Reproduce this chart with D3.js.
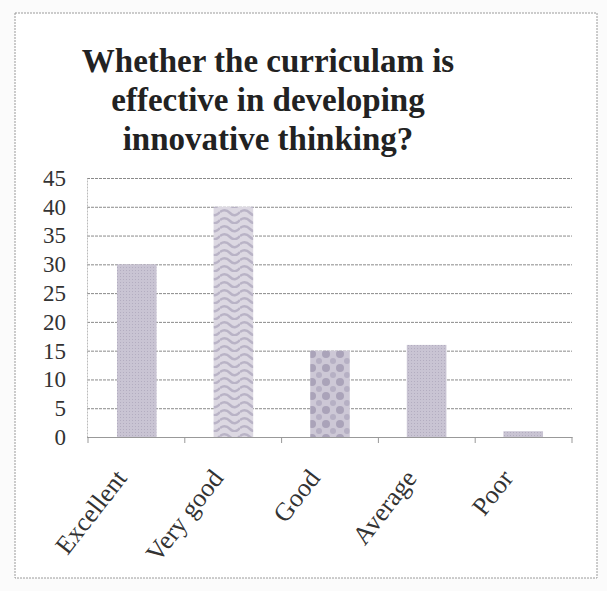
<!DOCTYPE html>
<html>
<head>
<meta charset="utf-8">
<script src="https://cdn.jsdelivr.net/npm/d3@7"></script>
<style>
body{margin:0;background:#fbfbfb;}
svg{display:block;}
</style>
</head>
<body>
<svg width="607" height="591"></svg>
<script>
"use strict";

var categories=["Excellent","Very good","Good","Average","Poor"];
var values=[30,40,15,16,1];
var yTicks=[0,5,10,15,20,25,30,35,40,45];
var titleLines=["Whether the curriculam is","effective in developing","innovative thinking?"];

var svg=d3.select("svg");

// texture patterns like the scanned print
var defs=svg.append("defs");
var pSolid=defs.append("pattern").attr("id","pSolid").attr("width",3).attr("height",3).attr("patternUnits","userSpaceOnUse");
pSolid.append("rect").attr("width",3).attr("height",3).attr("fill","#c9c4d3");
pSolid.append("rect").attr("width",1).attr("height",1).attr("fill","#b3adc0");

var pWave=defs.append("pattern").attr("id","pWave").attr("width",20).attr("height",16).attr("patternUnits","userSpaceOnUse");
pWave.append("rect").attr("width",20).attr("height",16).attr("fill","#dcd8e2");
pWave.append("path").attr("d","M0,4 Q5,0 10,5 T20,4 M0,12 Q5,8 10,13 T20,12")
	.attr("fill","none").attr("stroke","#b9b3c6").attr("stroke-width",2.5);

var pDots=defs.append("pattern").attr("id","pDots").attr("width",14).attr("height",14).attr("patternUnits","userSpaceOnUse");
pDots.append("rect").attr("width",14).attr("height",14).attr("fill","#cdc8d6");
pDots.append("circle").attr("cx",4).attr("cy",4).attr("r",4).attr("fill","#aaa3b9");
pDots.append("circle").attr("cx",11).attr("cy",11).attr("r",3).attr("fill","#b6b0c4");

var fills=["url(#pSolid)","url(#pWave)","url(#pDots)","url(#pSolid)","url(#pSolid)"];

// outer frame
svg.append("rect").attr("x",15).attr("y",13).attr("width",582).attr("height",565)
	.attr("fill","#ffffff").attr("stroke","#9a9a9a").attr("stroke-width",1).attr("stroke-dasharray","2,1");

// title
svg.append("g").selectAll("text").data(titleLines).enter().append("text")
	.attr("x",268).attr("y",function(d,i){return 72+i*39;})
	.attr("text-anchor","middle")
	.attr("font-family","Liberation Serif, DejaVu Serif, serif")
	.attr("font-size",33).attr("font-weight","bold").attr("fill","#222")
	.text(function(d){return d;});

var xScale=d3.scaleBand().domain(categories).range([88,572]).paddingInner(0.59).paddingOuter(0.3);
var yScale=d3.scaleLinear().domain([0,45]).range([437,178]);

// gridlines
svg.append("g").attr("id","grid")
	.attr("transform","translate(87,0)")
	.call(d3.axisRight(yScale).tickValues(yTicks).tickSize(485).tickFormat(""))
	.call(function(g){g.select(".domain").remove();})
	.selectAll("line").attr("stroke","#8a8a8a").attr("stroke-dasharray","3,1").attr("stroke-width",1);

// y axis
var yAxisG=svg.append("g").attr("id","yAxisG")
	.attr("transform","translate(87,0)")
	.call(d3.axisLeft(yScale).tickValues(yTicks).tickSize(0).tickPadding(21));
yAxisG.select(".domain").attr("stroke","#bbb").attr("stroke-dasharray","2,1");
yAxisG.selectAll("text")
	.attr("font-family","Liberation Serif, DejaVu Serif, serif")
	.attr("font-size",23).attr("fill","#333");

// bars
svg.append("g").selectAll("rect").data(values).enter().append("rect")
	.attr("x",function(d,i){return xScale(categories[i]);})
	.attr("y",function(d){return yScale(d);})
	.attr("width",xScale.bandwidth())
	.attr("height",function(d){return yScale(0)-yScale(d);})
	.attr("fill",function(d,i){return fills[i];});

// x axis
var xAxisG=svg.append("g").attr("id","xAxisG")
	.attr("transform","translate(0,"+yScale(0)+")")
	.call(d3.axisBottom(xScale).tickSize(0).tickPadding(0));
xAxisG.select(".domain").attr("stroke","#999");
xAxisG.selectAll(".tick text")
	.attr("font-family","Liberation Serif, DejaVu Serif, serif")
	.attr("font-size",26).attr("fill","#333")
	.attr("text-anchor","end")
	.attr("transform","translate(-16,36) rotate(-52)")
	.attr("dy","0.35em");

// category separator ticks
svg.append("g").selectAll("line").data(d3.range(categories.length+1)).enter().append("line")
	.attr("x1",function(i){return 88+i*(484/categories.length);})
	.attr("x2",function(i){return 88+i*(484/categories.length);})
	.attr("y1",yScale(0)).attr("y2",yScale(0)+6)
	.attr("stroke","#999");
</script>
</body>
</html>
